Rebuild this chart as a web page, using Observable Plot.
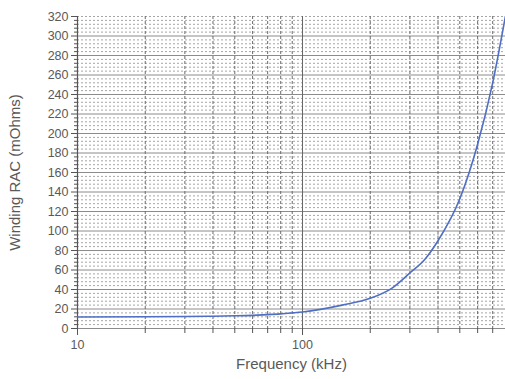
<!DOCTYPE html>
<html>
<head>
<meta charset="utf-8">
<script src="https://cdn.jsdelivr.net/npm/d3@7"></script>
<script src="https://cdn.jsdelivr.net/npm/@observablehq/plot@0.6"></script>
<style>
  html, body { margin: 0; padding: 0; background: #fff; }
  #chart svg { display: block; }
</style>
</head>
<body>
<div id="chart"></div>
<script>
const freq = [10, 20, 30, 40, 50, 60, 70, 80, 90, 100, 150, 200, 250, 300, 350, 400, 500, 600, 700, 800];
const rac  = [11.8, 12, 12.3, 12.6, 13, 13.5, 14.2, 15, 16, 17, 24, 31, 41.5, 57, 71, 90, 133, 189, 252, 322];
const xTickLabels = [10, 100];
const yTickLabels = [0, 20, 40, 60, 80, 100, 120, 140, 160, 180, 200, 220, 240, 260, 280, 300, 320];
const xMinor = [20, 30, 40, 50, 60, 70, 80, 90, 200, 300, 400, 500, 600, 700];
const yMinor = d3.range(0, 321, 4).filter(v => v % 20 !== 0);
const xLabel = "Frequency (kHz)";
const yLabel = "Winding RAC (mOhms)";

const data = freq.map((f, i) => ({f, r: rac[i]}));
const font = "Liberation Sans, Arial, sans-serif";

const chart = Plot.plot({
  width: 505,
  height: 379,
  marginLeft: 77,
  marginRight: 0,
  marginTop: 16,
  marginBottom: 51,
  style: {fontFamily: font, fontSize: "12.5px", color: "#595959", background: "#fff"},
  x: {type: "log", domain: [10, 798]},
  y: {domain: [0, 320]},
  marks: [
    Plot.ruleY(yMinor, {stroke: "#a6a6a6", strokeDasharray: "2,2", strokeWidth: 1}),
    Plot.ruleY([320], {stroke: "#a6a6a6", strokeDasharray: "2,2", strokeWidth: 1}),
    Plot.ruleY(yTickLabels.filter(v => v > 0 && v < 320), {stroke: "#8c8c8c", strokeWidth: 1}),
    Plot.ruleX(xMinor, {stroke: "#6a6a6a", strokeDasharray: "3,2", strokeWidth: 1}),
    Plot.ruleX([100], {stroke: "#666", strokeWidth: 1}),
    Plot.ruleY([0], {stroke: "#8c8c8c", strokeWidth: 1.2}),
    Plot.ruleX([10], {stroke: "#555", strokeWidth: 1.2}),
    Plot.axisY({ticks: yTickLabels, tickSize: 6, tickPadding: 3, stroke: "#555", fill: "#595959", fontSize: 12.5, label: null}),
    Plot.axisY({ticks: yMinor, tickSize: 3, text: null, stroke: "#555", label: null}),
    Plot.axisX({ticks: xTickLabels, tickSize: 7, tickPadding: 5, stroke: "#555", fill: "#595959", fontSize: 12.5, label: null, tickFormat: d => String(d)}),
    Plot.axisX({ticks: xMinor, tickSize: 5, stroke: "#555", text: null, label: null}),
    Plot.line(data, {x: "f", y: "r", stroke: "#4f6fc4", strokeWidth: 1.6, curve: "monotone-x", clip: true}),
    Plot.text([xLabel], {frameAnchor: "bottom", dy: 40, fontSize: 15, fill: "#595959", textAnchor: "middle"}),
    Plot.text([yLabel], {frameAnchor: "left", dx: -62, rotate: -90, fontSize: 15, fill: "#595959", textAnchor: "middle"})
  ]
});

document.getElementById("chart").appendChild(chart);
</script>
</body>
</html>
